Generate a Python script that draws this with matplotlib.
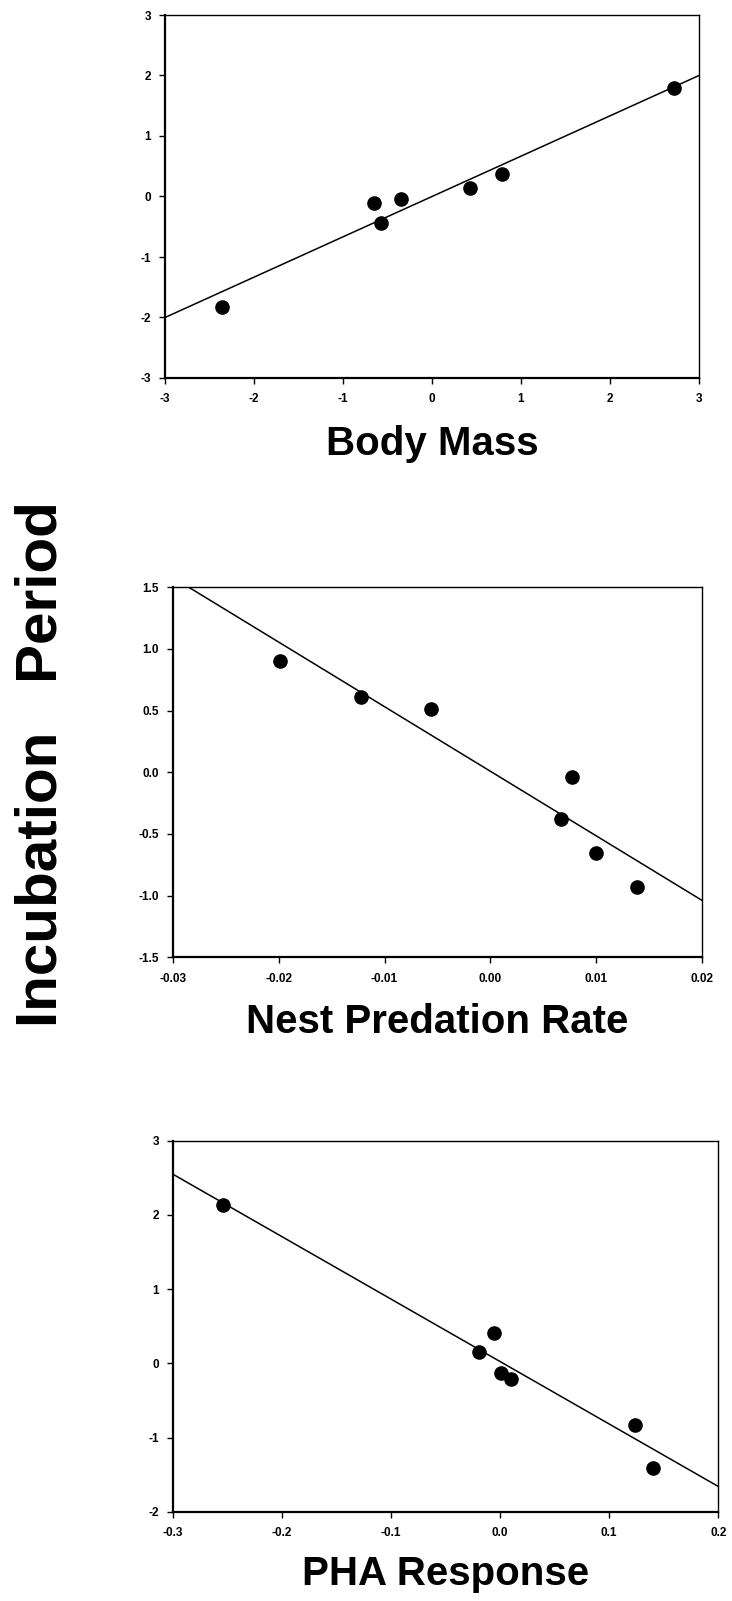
import numpy as np
import matplotlib
matplotlib.use("Agg")
import matplotlib.pyplot as plt

plt.rcParams['font.family'] = ['Liberation Sans', 'DejaVu Sans']
plt.rcParams['axes.unicode_minus'] = False

# panel 1 - body mass
mass_x = [-2.36, -0.65, -0.57, -0.35, 0.43, 0.79, 2.72]
mass_y = [-1.82, -0.10, -0.43, -0.04, 0.14, 0.38, 1.80]
mass_fit_x = [-3, 3]
mass_fit_y = [-2.0, 2.0]
mass_xticks = [-3, -2, -1, 0, 1, 2, 3]
mass_yticks = [-3, -2, -1, 0, 1, 2, 3]
mass_xlabels = ['-3', '-2', '-1', '0', '1', '2', '3']
mass_ylabels = ['-3', '-2', '-1', '0', '1', '2', '3']

# panel 2 - nest predation
pred_x = [-0.0199, -0.0122, -0.0056, 0.0077, 0.0067, 0.0100, 0.0138]
pred_y = [0.905, 0.613, 0.513, -0.041, -0.377, -0.652, -0.933]
pred_fit_x = [-0.03, 0.02]
pred_fit_y = [1.58, -1.04]
pred_xticks = [-0.03, -0.02, -0.01, 0.0, 0.01, 0.02]
pred_yticks = [-1.5, -1.0, -0.5, 0.0, 0.5, 1.0, 1.5]
pred_xlabels = ['-0.03', '-0.02', '-0.01', '0.00', '0.01', '0.02']
pred_ylabels = ['-1.5', '-1.0', '-0.5', '0.0', '0.5', '1.0', '1.5']

# panel 3 - PHA
pha_x = [-0.254, -0.0196, -0.0057, 0.0005, 0.0096, 0.124, 0.140]
pha_y = [2.14, 0.148, 0.41, -0.135, -0.21, -0.83, -1.41]
pha_fit_x = [-0.3, 0.2]
pha_fit_y = [2.55, -1.66]
pha_xticks = [-0.3, -0.2, -0.1, 0.0, 0.1, 0.2]
pha_yticks = [-2, -1, 0, 1, 2, 3]
pha_xlabels = ['-0.3', '-0.2', '-0.1', '0.0', '0.1', '0.2']
pha_ylabels = ['-2', '-1', '0', '1', '2', '3']

W, H = 732, 1601
fig = plt.figure(figsize=(W / 100, H / 100), dpi=100)


def make_panel(box, x, y, fx, fy, xt, yt, xl, yl, xlim, ylim, label, label_y):
    left, top, right, bottom = box
    ax = fig.add_axes([left / W, 1 - bottom / H, (right - left) / W, (bottom - top) / H])
    ax.plot(fx, fy, color='black', lw=1.1)
    ax.plot(x, y, 'o', color='black', markersize=9.5)
    ax.set_xlim(xlim)
    ax.set_ylim(ylim)
    ax.set_xticks(xt)
    ax.set_xticklabels(xl)
    ax.set_yticks(yt)
    ax.set_yticklabels(yl)
    ax.tick_params(direction='out', length=4, width=1, labelsize=8.5)
    ax.tick_params(axis='x', pad=7)
    ax.tick_params(axis='y', pad=6)
    for t in ax.get_xticklabels() + ax.get_yticklabels():
        t.set_fontweight('bold')
    ax.spines['left'].set_linewidth(1.6)
    ax.spines['bottom'].set_linewidth(1.6)
    ax.spines['top'].set_linewidth(1.0)
    ax.spines['right'].set_linewidth(1.0)
    fig.text((left + right) / 2 / W, 1 - label_y / H, label, ha='center', va='baseline',
             fontsize=29, fontweight='bold')
    return ax


make_panel((165, 15, 699, 378), mass_x, mass_y, mass_fit_x, mass_fit_y,
           mass_xticks, mass_yticks, mass_xlabels, mass_ylabels,
           (-3, 3), (-3, 3), 'Body Mass', 455)
make_panel((172.7, 587.3, 702.3, 957.3), pred_x, pred_y, pred_fit_x, pred_fit_y,
           pred_xticks, pred_yticks, pred_xlabels, pred_ylabels,
           (-0.03, 0.02), (-1.5, 1.5), 'Nest Predation Rate', 1033)
make_panel((172.7, 1140.7, 718.3, 1511.7), pha_x, pha_y, pha_fit_x, pha_fit_y,
           pha_xticks, pha_yticks, pha_xlabels, pha_ylabels,
           (-0.3, 0.2), (-2, 3), 'PHA Response', 1585)

fig.text(42 / W, 1 - 764 / H, 'Incubation   Period', rotation=90, ha='center', va='center',
         fontsize=42, fontweight='bold')

fig.savefig('out.png', dpi=100)
